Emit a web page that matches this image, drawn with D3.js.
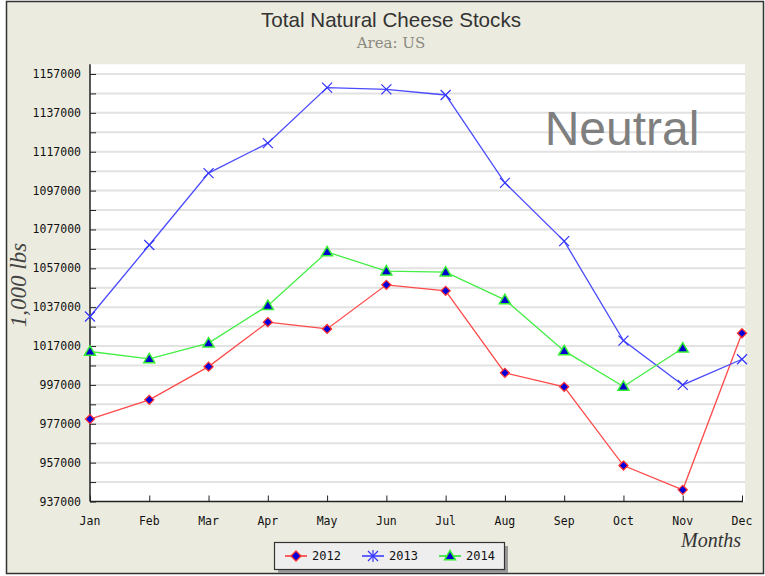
<!DOCTYPE html>
<html>
<head>
<meta charset="utf-8">
<script src="https://cdn.jsdelivr.net/npm/d3@7"></script>
<style>
  html, body { margin: 0; padding: 0; background: #fff; }
  svg { display: block; }
</style>
</head>
<body>
<svg id="chart" width="765" height="576"></svg>
<script>
// Monthly natural cheese stocks (1,000 lbs)
const months = ["Jan","Feb","Mar","Apr","May","Jun","Jul","Aug","Sep","Oct","Nov","Dec"];
const stocks2012 = [979400, 989300, 1006400, 1029300, 1025800, 1048500, 1045400, 1003200, 996000, 955500, 943000, 1023600];
const stocks2013 = [1032200, 1069000, 1106000, 1121400, 1150000, 1149100, 1146200, 1101000, 1071000, 1019800, 997000, 1010200];
const stocks2014 = [1014200, 1010400, 1018500, 1037800, 1065400, 1055600, 1055000, 1040800, 1014500, 996200, 1015900];
const yTicks = [937000, 957000, 977000, 997000, 1017000, 1037000, 1057000, 1077000, 1097000, 1117000, 1137000, 1157000];
const seriesNames = ["2012", "2013", "2014"];

const svg = d3.select("#chart");

// Frame and background
svg.append("rect").attr("x", 0).attr("y", 0).attr("width", 765).attr("height", 576).attr("fill", "#fff");
svg.append("rect").attr("x", 6.5).attr("y", 1.5).attr("width", 757).attr("height", 572)
  .attr("fill", "#ecebdf").attr("stroke", "#333").attr("stroke-width", 1.5);

const x = d3.scalePoint().domain(months).range([90, 742]);
const y = d3.scaleLinear().domain([937000, 1157000]).range([501.5, 74]);
const yTop = y(1162000);

// Plot area
svg.append("rect").attr("x", 90).attr("y", yTop).attr("width", 655).attr("height", y(937000) - yTop)
  .attr("fill", "#fff");

// Gridlines every 10,000
const gridVals = d3.range(947000, 1162000, 10000);
svg.append("g").selectAll("line").data(gridVals).join("line")
  .attr("x1", 91).attr("x2", 745)
  .attr("y1", d => y(d)).attr("y2", d => y(d))
  .attr("stroke", "#e2e2e2").attr("stroke-width", 2);

// Y axis
const yAxis = svg.append("g").attr("transform", "translate(90,0)")
  .call(d3.axisRight(y).tickValues(d3.range(937000, 1162000, 10000)).tickSize(6).tickFormat(""));
yAxis.select(".domain").remove();
yAxis.selectAll(".tick line").attr("stroke", "#222");
svg.append("line").attr("x1", 90).attr("x2", 90).attr("y1", yTop).attr("y2", y(937000))
  .attr("stroke", "#222").attr("stroke-width", 1.5);
svg.append("g").selectAll("text").data(yTicks).join("text")
  .attr("x", 81).attr("y", d => y(d) + 4)
  .attr("text-anchor", "end")
  .attr("font-family", "DejaVu Sans Mono, monospace").attr("font-size", 11.5).attr("fill", "#111")
  .text(d => d);

// X axis
const xAxis = svg.append("g").attr("transform", `translate(0,${y(937000)})`)
  .call(d3.axisTop(x).tickSize(6).tickFormat(""));
xAxis.select(".domain").remove();
xAxis.selectAll(".tick line").attr("stroke", "#222");
svg.append("line").attr("x1", 90).attr("x2", 743).attr("y1", y(937000)).attr("y2", y(937000))
  .attr("stroke", "#222").attr("stroke-width", 1.5);
svg.append("g").selectAll("text").data(months).join("text")
  .attr("x", d => x(d)).attr("y", 525)
  .attr("text-anchor", "middle")
  .attr("font-family", "DejaVu Sans Mono, monospace").attr("font-size", 11.5).attr("fill", "#111")
  .text(d => d);

// Titles
svg.append("text").attr("x", 391).attr("y", 27).attr("text-anchor", "middle")
  .attr("font-family", "Liberation Sans, Arial, sans-serif").attr("font-size", 21).attr("fill", "#333")
  .attr("textLength", 260).attr("lengthAdjust", "spacingAndGlyphs")
  .text("Total Natural Cheese Stocks");
svg.append("text").attr("x", 391).attr("y", 48).attr("text-anchor", "middle")
  .attr("font-family", "DejaVu Serif, serif").attr("font-size", 15).attr("fill", "#8a8a80")
  .text("Area: US");

// Axis titles
svg.append("text").attr("transform", "translate(26,285) rotate(-90)").attr("text-anchor", "middle")
  .attr("font-family", "Liberation Serif, serif").attr("font-style", "italic").attr("font-size", 23)
  .attr("fill", "#444").text("1,000 lbs");
svg.append("text").attr("x", 741).attr("y", 547).attr("text-anchor", "end")
  .attr("font-family", "Liberation Serif, serif").attr("font-style", "italic").attr("font-size", 20)
  .attr("fill", "#333").text("Months");

// Annotation
svg.append("text").attr("x", 622).attr("y", 145).attr("text-anchor", "middle")
  .attr("font-family", "Liberation Sans, Arial, sans-serif").attr("font-size", 48).attr("fill", "#7f7f7f")
  .text("Neutral");

// Series
const line = d3.line().x((d, i) => x(months[i])).y(d => y(d));
const plot = svg.append("g");

function diamond(g, cx, cy, r) {
  g.append("path").attr("d", `M${cx},${cy - r}L${cx + r},${cy}L${cx},${cy + r}L${cx - r},${cy}Z`)
    .attr("fill", "#0000dd").attr("stroke", "#ff3030").attr("stroke-width", 1.3);
}
function cross(g, cx, cy, r) {
  g.append("path").attr("d", `M${cx - r},${cy - r}L${cx + r},${cy + r}M${cx - r},${cy + r}L${cx + r},${cy - r}`)
    .attr("stroke", "#3333ff").attr("stroke-width", 1.2).attr("fill", "none");
}
function triangle(g, cx, cy, r) {
  g.append("path").attr("d", `M${cx},${cy - r}L${cx + r},${cy + r * 0.7}L${cx - r},${cy + r * 0.7}Z`)
    .attr("fill", "#0000cc").attr("stroke", "#33ee33").attr("stroke-width", 1.5);
}

plot.append("path").datum(stocks2012).attr("d", line).attr("fill", "none")
  .attr("stroke", "#ff4a4a").attr("stroke-width", 1.3);
plot.append("path").datum(stocks2013).attr("d", line).attr("fill", "none")
  .attr("stroke", "#4a4aff").attr("stroke-width", 1.3);
plot.append("path").datum(stocks2014).attr("d", line).attr("fill", "none")
  .attr("stroke", "#44ee44").attr("stroke-width", 1.3);

stocks2012.forEach((v, i) => diamond(plot, x(months[i]), y(v), 4.5));
stocks2013.forEach((v, i) => cross(plot, x(months[i]), y(v), 5));
stocks2014.forEach((v, i) => triangle(plot, x(months[i]), y(v), 5.5));

// Legend
const lg = svg.append("g");
lg.append("rect").attr("x", 278).attr("y", 546).attr("width", 230).attr("height", 27).attr("fill", "#999");
lg.append("rect").attr("x", 274.5).attr("y", 542.5).attr("width", 230).attr("height", 27)
  .attr("fill", "#eeeeee").attr("stroke", "#333").attr("stroke-width", 1.2);
const legendX = [285, 362, 439];
const legendColors = ["#ff3030", "#3333ff", "#22dd22"];
seriesNames.forEach((name, i) => {
  const lx = legendX[i], ly = 556;
  lg.append("line").attr("x1", lx).attr("x2", lx + 22).attr("y1", ly).attr("y2", ly)
    .attr("stroke", legendColors[i]).attr("stroke-width", 1.5);
  if (i === 0) diamond(lg, lx + 11, ly, 5);
  if (i === 1) {
    cross(lg, lx + 11, ly, 5);
    lg.append("line").attr("x1", lx + 11).attr("x2", lx + 11).attr("y1", ly - 6).attr("y2", ly + 6)
      .attr("stroke", "#3333ff").attr("stroke-width", 1.2);
  }
  if (i === 2) triangle(lg, lx + 11, ly, 5.5);
  lg.append("text").attr("x", lx + 27).attr("y", ly + 4)
    .attr("font-family", "DejaVu Sans Mono, monospace").attr("font-size", 12).attr("fill", "#111")
    .text(name);
});
</script>
</body>
</html>
